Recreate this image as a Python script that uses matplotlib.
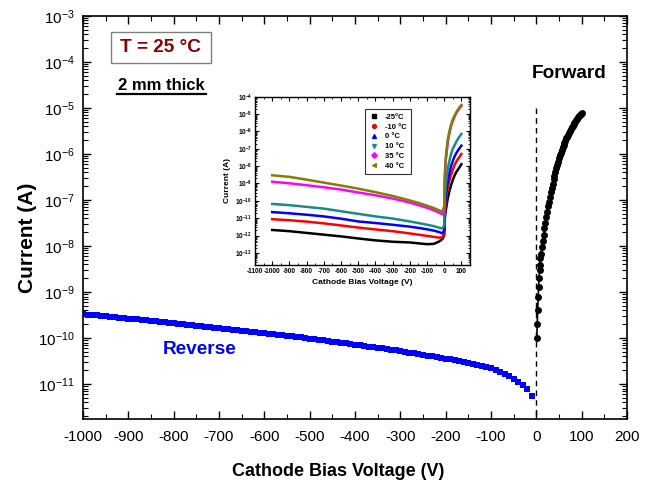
import numpy as np
import matplotlib
matplotlib.use("Agg")
import matplotlib.pyplot as plt
from matplotlib.ticker import LogLocator, MultipleLocator, FixedLocator, FuncFormatter, NullFormatter
from matplotlib.lines import Line2D
from matplotlib.patches import Rectangle

plt.rcParams['font.family'] = ['Liberation Sans', 'DejaVu Sans']
plt.rcParams['mathtext.fontset'] = 'custom'
plt.rcParams['mathtext.rm'] = 'Liberation Sans'
plt.rcParams['mathtext.bf'] = 'Liberation Sans:bold'
plt.rcParams['axes.unicode_minus'] = False

# ---------------- main data (T = 25 C) ----------------
reverse_voltage = list(range(-1000, 0, 10))
reverse_current_e10 = [  # in units of 1e-10 A
    3.32, 3.25, 3.18, 3.11, 3.04, 2.97, 2.91, 2.84, 2.78, 2.72,
    2.65, 2.60, 2.54, 2.48, 2.42, 2.37, 2.32, 2.27, 2.22, 2.17,
    2.12, 2.07, 2.02, 1.97, 1.92, 1.87, 1.82, 1.78, 1.74, 1.69,
    1.65, 1.61, 1.57, 1.53, 1.50, 1.45, 1.42, 1.38, 1.35, 1.32,
    1.28, 1.25, 1.21, 1.18, 1.15, 1.12, 1.09, 1.06, 1.03, 1.00,
    0.974, 0.946, 0.918, 0.890, 0.862, 0.841, 0.813, 0.792, 0.764, 0.743,
    0.722, 0.701, 0.676, 0.654, 0.633, 0.613, 0.593, 0.574, 0.556, 0.538,
    0.521, 0.502, 0.484, 0.466, 0.448, 0.432, 0.416, 0.401, 0.386, 0.371,
    0.358, 0.345, 0.331, 0.317, 0.304, 0.290, 0.276, 0.262, 0.248, 0.234,
    0.221, 0.202, 0.185, 0.169, 0.150, 0.131, 0.113, 0.0961, 0.0775, 0.0546,
]
reverse_current = [v * 1e-10 for v in reverse_current_e10]

forward_voltage = [1, 2, 3, 4, 5, 6, 7, 8, 9, 10] + list(range(12, 101, 2))
forward_current = [
    9.84e-11, 2.02e-10, 4.06e-10, 7.92e-10, 1.30e-9, 2.05e-9, 3.01e-9, 3.85e-9, 5.41e-9, 6.59e-9,
    9.63e-9, 1.31e-8, 1.77e-8, 2.41e-8, 3.20e-8, 4.24e-8, 5.63e-8, 7.30e-8, 9.25e-8, 1.17e-7,
    1.48e-7, 1.83e-7, 2.26e-7, 2.80e-7, 3.38e-7, 4.08e-7, 4.93e-7, 5.82e-7, 6.86e-7, 8.09e-7,
    9.35e-7, 1.07e-6, 1.24e-6, 1.39e-6, 1.57e-6, 1.74e-6, 1.94e-6, 2.18e-6, 2.39e-6, 2.63e-6,
    2.89e-6, 3.17e-6, 3.49e-6, 3.79e-6, 4.12e-6, 4.41e-6, 4.74e-6, 5.08e-6, 5.46e-6, 5.86e-6,
    6.29e-6, 6.76e-6, 7.07e-6, 7.50e-6, 7.90e-6,
]

# ---------------- inset data (temperature series) ----------------
inset_voltage = [-1000, -900, -800, -700, -600, -500, -400, -300, -200, -150, -100, -60, -30, -10,
                 0, 2, 5, 10, 20, 30, 40, 50, 60, 70, 80, 90, 100]
inset_labels = ['-25°C', '-10 °C', '0 °C', '10 °C', '35 °C', '40 °C']
inset_colors = ['#000000', '#ff0000', '#0000ff', '#1a8a8a', '#ff00ff', '#808000']
inset_markers = ['s', 'o', '^', 'v', 'D', '<']
cur_m25 = [2.09e-12, 1.78e-12, 1.41e-12, 1.12e-12, 8.91e-13, 6.76e-13, 5.25e-13, 4.37e-13, 3.98e-13,
           3.55e-13, 3.16e-13, 3.31e-13, 4.47e-13, 6.31e-13, 1.0e-12, 5.01e-12, 1.26e-11, 3.16e-11,
           1.26e-10, 3.55e-10, 7.94e-10, 1.58e-9, 2.82e-9, 4.47e-9, 6.31e-9, 8.91e-9, 1.29e-8]
cur_m10 = [8.71e-12, 7.59e-12, 6.31e-12, 5.01e-12, 3.80e-12, 2.88e-12, 2.24e-12, 1.78e-12, 1.32e-12,
           1.12e-12, 9.55e-13, 8.32e-13, 7.59e-13, 7.94e-13, 1.26e-12, 1.0e-11, 3.16e-11, 1.0e-10,
           5.01e-10, 1.41e-9, 3.16e-9, 6.31e-9, 1.12e-8, 1.78e-8, 2.51e-8, 3.55e-8, 5.01e-8]
cur_0 = [2.24e-11, 1.91e-11, 1.58e-11, 1.26e-11, 9.33e-12, 6.46e-12, 5.25e-12, 4.17e-12, 3.24e-12,
         2.75e-12, 2.29e-12, 1.91e-12, 1.58e-12, 1.32e-12, 2.0e-12, 1.58e-11, 6.31e-11, 2.51e-10,
         1.26e-9, 3.98e-9, 1.0e-8, 2.0e-8, 3.55e-8, 5.62e-8, 7.94e-8, 1.12e-7, 1.51e-7]
cur_10 = [6.61e-11, 5.62e-11, 4.47e-11, 3.55e-11, 2.51e-11, 1.78e-11, 1.26e-11, 9.55e-12, 6.46e-12,
          5.25e-12, 4.17e-12, 3.47e-12, 2.82e-12, 2.51e-12, 3.98e-12, 5.01e-11, 2.51e-10, 1.0e-9,
          6.31e-9, 2.0e-8, 5.01e-8, 1.0e-7, 1.58e-7, 2.51e-7, 3.72e-7, 5.25e-7, 7.24e-7]
cur_35 = [1.26e-9, 1.02e-9, 7.94e-10, 6.03e-10, 4.47e-10, 3.02e-10, 2.09e-10, 1.35e-10, 7.94e-11,
          5.62e-11, 3.98e-11, 2.82e-11, 2.09e-11, 1.66e-11, 2.51e-11, 6.31e-10, 3.98e-9, 2.51e-8,
          2.0e-7, 7.94e-7, 2.0e-6, 3.98e-6, 7.08e-6, 1.12e-5, 1.58e-5, 2.24e-5, 3.02e-5]
cur_40 = [2.95e-9, 2.40e-9, 1.66e-9, 1.12e-9, 7.59e-10, 5.01e-10, 3.16e-10, 1.91e-10, 1.05e-10,
          7.59e-11, 5.25e-11, 3.80e-11, 2.82e-11, 2.40e-11, 5.01e-11, 1.0e-9, 6.31e-9, 3.98e-8,
          3.16e-7, 1.0e-6, 2.51e-6, 5.01e-6, 7.94e-6, 1.26e-5, 1.78e-5, 2.51e-5, 3.31e-5]
inset_series = [cur_m25, cur_m10, cur_0, cur_10, cur_35, cur_40]

x_ticks = list(range(-1000, 201, 100))
inset_x_ticks = list(range(-1100, 101, 100))

# ---------------- figure ----------------
W, H = 652, 482
fig = plt.figure(figsize=(W / 100, H / 100), dpi=100)
ax = fig.add_axes([83 / W, 1 - 419 / H, (627 - 83) / W, (419 - 16) / H])

ax.plot(reverse_voltage, reverse_current, linestyle='none', marker='s', markersize=4.4,
        color='#0000ff', markeredgewidth=0)
ax.plot(forward_voltage, forward_current, linestyle='-', linewidth=1.2, marker='o', markersize=5,
        color='black', markeredgewidth=0)
ylo = 1.74e-12
ax.plot([0, 0], [1e-5, ylo], linestyle=(0, (4, 3)), color='black', linewidth=1)

ax.set_yscale('log')
ax.set_xlim(-1000, 200)
ax.set_ylim(ylo, 1e-3)
ax.xaxis.set_major_locator(FixedLocator(x_ticks))
ax.xaxis.set_minor_locator(MultipleLocator(50))
ax.yaxis.set_major_locator(LogLocator(base=10, numticks=20))
ax.yaxis.set_minor_locator(LogLocator(base=10, subs=np.arange(2, 10), numticks=200))
ax.yaxis.set_minor_formatter(NullFormatter())
ax.tick_params(which='both', direction='in', top=True, right=True, labelsize=11)
ax.tick_params(which='major', length=6, width=1)
ax.tick_params(which='minor', length=3.3, width=0.8)
ax.tick_params(axis='x', pad=8)
ax.tick_params(axis='y', pad=6)
for s in ax.spines.values():
    s.set_linewidth(1.2)

ax.set_xlabel('Cathode Bias Voltage (V)', fontsize=13, fontweight='bold')
ax.set_ylabel('Current (A)', fontsize=15, fontweight='bold')
ax.xaxis.set_label_coords(0.469, -0.108)
ax.yaxis.set_label_coords(-0.085, 0.45)

# annotations
ax.text((569 - 83) / 544, 1 - (73 - 16) / 403, 'Forward', transform=ax.transAxes,
        ha='center', va='center', fontsize=13.7, fontweight='bold', color='black')
ax.text((200 - 83) / 544, 1 - (349 - 16) / 403, 'Reverse', transform=ax.transAxes,
        ha='center', va='center', fontsize=13.7, fontweight='bold', color='#0000ff')
fig.patches.append(Rectangle((110.7 / W, 1 - 63.3 / H), 100 / W, 31.6 / H, transform=fig.transFigure,
                             fill=False, edgecolor='#808080', linewidth=1))
fig.text(160.7 / W, 1 - 47.5 / H, 'T = 25 °C', ha='center', va='center', fontsize=13.7,
         fontweight='bold', color='#8b0000')
fig.text(161 / W, 1 - 86 / H, '2 mm thick', ha='center', va='center', fontsize=12,
         fontweight='bold', color='black')
fig.add_artist(Line2D([116.7 / W, 205.5 / W], [1 - 93.5 / H, 1 - 93.5 / H], transform=fig.transFigure,
                      color='black', linewidth=1.6))

# ---------------- inset ----------------
ix0, ix1, iy0, iy1 = 255, 470, 96.7, 265
ins = fig.add_axes([ix0 / W, 1 - iy1 / H, (ix1 - ix0) / W, (iy1 - iy0) / H])
for cur, col in zip(inset_series, inset_colors):
    ins.plot(inset_voltage, cur, color=col, linewidth=1.8)
ins.set_yscale('log')
ins.set_xlim(-1100, 150)
ins.set_ylim(2e-14, 1e-4)
ins.xaxis.set_major_locator(FixedLocator(inset_x_ticks))
ins.xaxis.set_minor_locator(MultipleLocator(50))
ins.yaxis.set_major_locator(LogLocator(base=10, numticks=20))
ins.yaxis.set_minor_locator(LogLocator(base=10, subs=np.arange(2, 10), numticks=200))
ins.yaxis.set_minor_formatter(NullFormatter())
ins.yaxis.set_major_formatter(FuncFormatter(
    lambda v, p: r'$\mathbf{10^{%d}}$' % int(round(np.log10(v)))))
ins.xaxis.set_major_formatter(FuncFormatter(lambda v, p: '%d' % v))
ins.tick_params(which='both', direction='in', top=True, right=True, labelsize=4.7, pad=2)
ins.tick_params(which='major', length=3, width=0.8)
ins.tick_params(which='minor', length=1.5, width=0.6)
for lab in ins.get_xticklabels():
    lab.set_fontweight('bold')
for s in ins.spines.values():
    s.set_linewidth(1)
ins.set_xlabel('Cathode Bias Voltage (V)', fontsize=6, fontweight='bold')
ins.set_ylabel('Current (A)', fontsize=6, fontweight='bold')
ins.xaxis.set_label_coords(0.5, -0.085)
ins.yaxis.set_label_coords(-0.11, 0.5)

handles = [Line2D([], [], linestyle='none', marker=m, color=c, markersize=2.8)
           for m, c in zip(inset_markers, inset_colors)]
leg = ins.legend(handles, inset_labels, loc='upper left', bbox_to_anchor=(0.512, 0.927),
                 prop={'weight': 'bold', 'size': 5.5}, frameon=True, fancybox=False,
                 edgecolor='black', handlelength=1.2, handletextpad=0.8, labelspacing=0.32,
                 borderpad=0.6, borderaxespad=0)
leg.get_frame().set_linewidth(0.8)

fig.savefig('out.png', dpi=100)
